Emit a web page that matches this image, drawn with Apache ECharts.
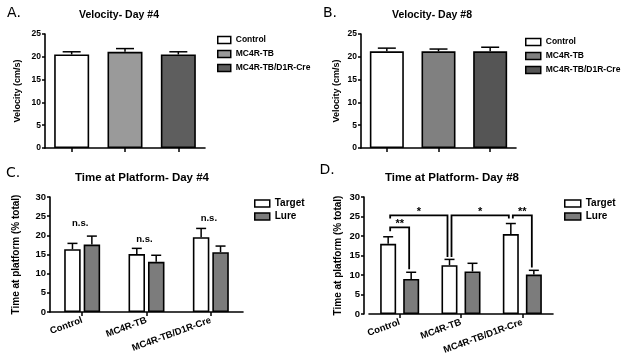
<!DOCTYPE html>
<html>
<head>
<meta charset="utf-8">
<script src="https://cdn.jsdelivr.net/npm/echarts@6/dist/echarts.min.js"></script>
<style>html,body{margin:0;padding:0;background:#fff;}#c{width:624px;height:363px;}</style>
</head>
<body>
<div id="c"></div>
<script>
// ---------- DATA ----------
const categories = ['Control', 'MC4R-TB', 'MC4R-TB/D1R-Cre'];
const velocityDay4 = [20.5, 21.1, 20.5];
const velocityDay4Sem = [0.6, 0.7, 0.6];
const velocityDay8 = [21.2, 21.2, 21.2];
const velocityDay8Sem = [0.7, 0.5, 0.9];
const platformDay4Target = [16.4, 15.1, 19.5];
const platformDay4TargetSem = [1.5, 1.5, 2.3];
const platformDay4Lure = [17.6, 13.1, 15.6];
const platformDay4LureSem = [2.2, 1.7, 1.6];
const platformDay8Target = [18.0, 12.5, 20.5];
const platformDay8TargetSem = [1.8, 1.5, 2.7];
const platformDay8Lure = [9.0, 10.9, 10.1];
const platformDay8LureSem = [1.7, 2.1, 1.1];
const velocityTicks = [0, 5, 10, 15, 20, 25];
const platformTicks = [0, 5, 10, 15, 20, 25, 30];
const day4Labels = ['n.s.', 'n.s.', 'n.s.'];
const day4LabelLevels = [23.2, 19.0, 24.5];
// comparisons: [fromCategory, fromBar(-1 target / 1 lure), fromDrop, toCategory, toBar, toDrop, level, label]
const day8Comparisons = [
  [0, -1, 21.2, 0, 1, 11.5, 22.2, '**'],
  [0, -1, 24.5, 1, -1, 14.6, 25.3, '*'],
  [1, -1, 14.6, 2, -1, 24.5, 25.3, '*'],
  [2, -1, 24.5, 2, 1, 11.9, 25.3, '**']
];

// ---------- STYLE ----------
const FONT = 'Liberation Sans';
const groupColorsA = ['#ffffff', '#9a9a9a', '#5e5e5e'];
const groupColorsB = ['#ffffff', '#808080', '#555555'];
const targetColor = '#ffffff', lureColor = '#7c7c7c';
const panelGrids = [
  {left: 45, top: 34, width: 160, height: 114},
  {left: 361, top: 34, width: 155, height: 114},
  {left: 50, top: 197, width: 193, height: 115},
  {left: 369, top: 197, width: 184, height: 117}
];
const barOffsets = [0, 0, 9.7, 11.5];

function yAxisCfg(gridIndex, max, name, nameGap, fontSize, offset) {
  return {
    type: 'value', gridIndex, min: 0, max, interval: 5, offset: offset || 0,
    name, nameLocation: 'middle', nameGap, nameRotate: 90,
    nameTextStyle: {fontFamily: FONT, fontWeight: 'bold', fontSize: fontSize + 0.5, color: '#000'},
    axisLine: {show: true, lineStyle: {color: '#000', width: 1.6}},
    axisTick: {show: true, length: 3, lineStyle: {color: '#000', width: 1.5}},
    axisLabel: {margin: 4, fontFamily: FONT, fontWeight: 'bold', fontSize, color: '#000'},
    splitLine: {show: false}
  };
}
function xAxisCfg(gridIndex, showLabels) {
  return {
    type: 'category', gridIndex, data: categories,
    axisLine: {show: true, lineStyle: {color: '#000', width: 1.6}},
    axisTick: {show: true, alignWithLabel: true, interval: 0, length: 4, lineStyle: {color: '#000', width: 1.5}},
    axisLabel: showLabels ? {show: true, rotate: 20, margin: 8, fontFamily: FONT, fontWeight: 'bold', fontSize: 9.5, color: '#000', interval: 0} : {show: false, interval: 0}
  };
}

function errorSeries(axisIndex, means, sems, side, capW) {
  return {
    type: 'custom', xAxisIndex: axisIndex, yAxisIndex: axisIndex, z: 1, clip: false, silent: true,
    data: means.map((m, i) => [i, m, sems[i]]),
    renderItem: function (params, api) {
      const p0 = api.coord([api.value(0), api.value(1)]);
      const p1 = api.coord([api.value(0), api.value(1) + api.value(2)]);
      const cx = p0[0] + side * barOffsets[axisIndex];
      const st = {stroke: '#000', lineWidth: 1.5};
      return {type: 'group', children: [
        {type: 'line', shape: {x1: cx, y1: p0[1], x2: cx, y2: p1[1]}, style: st},
        {type: 'line', shape: {x1: cx - capW / 2, y1: p1[1], x2: cx + capW / 2, y2: p1[1]}, style: st}
      ]};
    }
  };
}

const series = [];
// Panels A & B: velocity
[[velocityDay4, velocityDay4Sem, groupColorsA, 35], [velocityDay8, velocityDay8Sem, groupColorsB, 34]].forEach((p, ai) => {
  categories.forEach((c, k) => {
    series.push({
      type: 'bar', name: c, xAxisIndex: ai, yAxisIndex: ai, stack: 'v' + ai, barWidth: p[3], z: 2,
      itemStyle: {color: p[2][k], borderColor: '#000', borderWidth: 1.6},
      data: p[0].map((v, i) => i === k ? v : '-')
    });
  });
  series.push(errorSeries(ai, p[0], p[1], 0, 18));
});
// Panels C & D: time at platform
[[platformDay4Target, platformDay4TargetSem, platformDay4Lure, platformDay4LureSem, 16.5, '18%'],
 [platformDay8Target, platformDay8TargetSem, platformDay8Lure, platformDay8LureSem, 16, '44%']].forEach((p, j) => {
  const ai = j + 2;
  series.push({type: 'bar', name: 'Target', xAxisIndex: ai, yAxisIndex: ai, barWidth: p[4], barGap: p[5], z: 2,
    itemStyle: {color: targetColor, borderColor: '#000', borderWidth: 1.6}, data: p[0]});
  series.push({type: 'bar', name: 'Lure', xAxisIndex: ai, yAxisIndex: ai, barWidth: p[4], barGap: p[5], z: 2,
    itemStyle: {color: lureColor, borderColor: '#000', borderWidth: 1.6}, data: p[2]});
  series.push(errorSeries(ai, p[0], p[1], -1, 10));
  series.push(errorSeries(ai, p[2], p[3], 1, 10));
});
// n.s. labels (C)
series.push({
  type: 'custom', xAxisIndex: 2, yAxisIndex: 2, z: 5, clip: false, silent: true,
  data: day4Labels.map((l, i) => [i, day4LabelLevels[i]]),
  renderItem: function (params, api) {
    const p = api.coord([api.value(0), api.value(1)]);
    return {type: 'text', x: p[0] - 2, y: p[1], style: {text: day4Labels[params.dataIndex], fill: '#000',
      font: 'bold 9.5px ' + FONT, textAlign: 'center', textVerticalAlign: 'middle'}};
  }
});
// significance brackets (D)
series.push({
  type: 'custom', xAxisIndex: 3, yAxisIndex: 3, z: 5, clip: false, silent: true,
  data: day8Comparisons.map(c => [c[0], c[6]]),
  renderItem: function (params, api) {
    const c = day8Comparisons[params.dataIndex];
    const xa = api.coord([c[0], 0])[0] + c[1] * barOffsets[3] + 2;
    const xb = api.coord([c[3], 0])[0] + c[4] * barOffsets[3] - 2;
    const yTop = api.coord([c[0], c[6]])[1];
    const ya = api.coord([c[0], c[2]])[1];
    const yb = api.coord([c[3], c[5]])[1];
    const st = {stroke: '#000', lineWidth: 1.8, fill: null};
    return {type: 'group', children: [
      {type: 'polyline', shape: {points: [[xa, ya], [xa, yTop], [xb, yTop], [xb, yb]]}, style: st},
      {type: 'text', x: (xa + xb) / 2, y: yTop - 3, style: {text: c[7], fill: '#000', font: 'bold 11px ' + FONT,
        textAlign: 'center', textVerticalAlign: 'middle'}}
    ]};
  }
});

function legendCfg(names, colors, left, top, iw, ih, fs, lh, gap) {
  return {
    orient: 'vertical', left, top, itemWidth: iw, itemHeight: ih, itemGap: gap, icon: 'rect',
    selectedMode: false, padding: 0,
    data: names.map((n, i) => ({name: n, itemStyle: {color: colors[i], borderColor: '#000', borderWidth: 1.5}})),
    textStyle: {fontFamily: FONT, fontWeight: 'bold', fontSize: fs, lineHeight: lh, color: '#000'}
  };
}

function txt(x, y, text, font, align) {
  return {type: 'text', x, y, style: {text, font, fill: '#000', textAlign: align || 'center', textVerticalAlign: 'middle'}};
}

const chart = echarts.init(document.getElementById('c'), null, {renderer: 'canvas'});
chart.setOption({
  animation: false,
  backgroundColor: '#fff',
  grid: panelGrids,
  xAxis: [xAxisCfg(0, false), xAxisCfg(1, false), xAxisCfg(2, true), xAxisCfg(3, true)],
  yAxis: [
    yAxisCfg(0, 25, 'Velocity (cm/s)', 23, 8.5),
    yAxisCfg(1, 25, 'Velocity (cm/s)', 20, 8.5),
    yAxisCfg(2, 30, 'Time at platform (% total)', 29, 9.5),
    yAxisCfg(3, 30, 'Time at platform (% total)', 21, 9.5, 5)
  ],
  legend: [
    legendCfg(categories, groupColorsA, 217, 35, 13, 7, 8.5, 10, 4),
    legendCfg(categories, groupColorsB, 525, 37, 15, 7, 8.5, 10, 4),
    legendCfg(['Target', 'Lure'], [targetColor, lureColor], 254, 198, 15, 7, 10, 11, 2),
    legendCfg(['Target', 'Lure'], [targetColor, lureColor], 564, 198, 16, 7, 10, 11, 2)
  ],
  graphic: [
    txt(14, 13, 'A.', '14px "DejaVu Sans"'),
    txt(330, 13, 'B.', '14px "DejaVu Sans"'),
    txt(13, 173, 'C.', '14px "DejaVu Sans"'),
    txt(327, 170, 'D.', '14px "DejaVu Sans"'),
    txt(119, 15, 'Velocity- Day #4', 'bold 10.5px ' + FONT),
    txt(432, 15, 'Velocity- Day #8', 'bold 10.5px ' + FONT),
    txt(142, 178, 'Time at Platform- Day #4', 'bold 11.5px ' + FONT),
    txt(452, 178, 'Time at Platform- Day #8', 'bold 11.5px ' + FONT)
  ],
  series
});
</script>
</body>
</html>
